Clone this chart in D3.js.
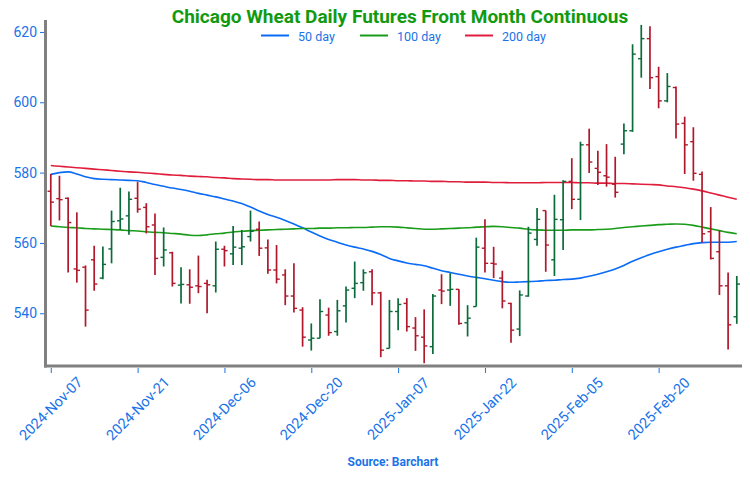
<!DOCTYPE html>
<html><head><meta charset="utf-8">
<script src="https://cdn.jsdelivr.net/npm/d3@7/dist/d3.min.js"></script>
<style>
body{margin:0;background:#fff}
svg{display:block}
text{font-family:Roboto,"Noto Sans",sans-serif}
</style>
</head><body>
<svg id="chart" width="750" height="479"></svg>
<script>
const dates = [
"2024-Nov-07","2024-Nov-08","2024-Nov-11","2024-Nov-12","2024-Nov-13","2024-Nov-14","2024-Nov-15","2024-Nov-18","2024-Nov-19","2024-Nov-20",
"2024-Nov-21","2024-Nov-22","2024-Nov-25","2024-Nov-26","2024-Nov-27","2024-Nov-29","2024-Dec-02","2024-Dec-03","2024-Dec-04","2024-Dec-05",
"2024-Dec-06","2024-Dec-09","2024-Dec-10","2024-Dec-11","2024-Dec-12","2024-Dec-13","2024-Dec-16","2024-Dec-17","2024-Dec-18","2024-Dec-19",
"2024-Dec-20","2024-Dec-23","2024-Dec-24","2024-Dec-26","2024-Dec-27","2024-Dec-30","2024-Dec-31","2025-Jan-02","2025-Jan-03","2025-Jan-06",
"2025-Jan-07","2025-Jan-08","2025-Jan-09","2025-Jan-10","2025-Jan-13","2025-Jan-14","2025-Jan-15","2025-Jan-16","2025-Jan-17","2025-Jan-21",
"2025-Jan-22","2025-Jan-23","2025-Jan-24","2025-Jan-27","2025-Jan-28","2025-Jan-29","2025-Jan-30","2025-Jan-31","2025-Feb-03","2025-Feb-04",
"2025-Feb-05","2025-Feb-06","2025-Feb-07","2025-Feb-10","2025-Feb-11","2025-Feb-12","2025-Feb-13","2025-Feb-14","2025-Feb-18","2025-Feb-19",
"2025-Feb-20","2025-Feb-21","2025-Feb-24","2025-Feb-25","2025-Feb-26","2025-Feb-27","2025-Feb-28","2025-Mar-03","2025-Mar-04","2025-Mar-05"];

const open = [574.7,572.6,572.7,552.6,553.1,555.2,550.0,558.3,566.3,567.7,
572.7,570.1,565.1,555.9,557.2,548.0,548.1,547.8,548.5,547.8,
558.2,556.9,558.5,561.8,563.9,558.6,552.3,550.9,544.9,540.9,
532.4,532.9,539.5,534.8,542.1,547.1,548.7,551.8,545.8,530.0,
540.5,542.8,535.8,533.2,530.5,546.6,546.6,546.8,537.3,541.9,
558.5,554.2,550.0,542.8,535.5,544.9,561.0,569.2,555.2,566.6,
577.5,572.4,587.9,581.2,579.1,576.7,588.1,591.9,612.4,618.1,
607.3,600.4,604.2,594.0,588.8,579.5,563.2,557.5,547.8,539.0];
const high = [579.6,579.1,572.9,568.7,553.6,559.2,559.0,569.2,575.7,574.6,
577.4,571.3,568.4,564.4,557.5,553.1,552.5,556.4,549.5,560.4,
559.2,564.8,563.7,569.2,566.1,561.0,559.4,552.5,554.2,541.7,
537.1,544.0,541.6,543.8,547.6,554.7,552.5,552.5,546.1,543.8,
544.3,544.3,538.9,541.1,545.5,551.1,551.4,546.8,542.3,561.5,
566.7,558.9,552.1,543.0,546.5,564.6,569.9,569.2,573.7,577.8,
584.1,588.8,592.5,586.2,588.1,584.5,594.0,616.5,622.0,621.6,
610.1,608.3,604.5,595.9,592.9,580.3,570.2,563.5,551.6,550.6];
const low = [564.8,566.4,551.6,548.7,536.2,546.4,549.7,554.2,563.7,562.3,
568.6,562.7,550.9,553.3,547.6,542.8,542.7,545.7,540.0,545.9,
553.3,553.7,553.7,560.4,556.3,551.2,548.5,542.3,540.2,530.5,
529.4,532.9,533.6,533.6,537.4,544.3,546.4,542.3,527.5,530.0,
535.2,534.8,529.3,525.8,528.4,542.6,542.1,536.7,533.4,541.9,
551.6,550.0,541.4,531.6,533.5,544.7,559.2,551.8,550.6,558.0,
569.6,566.5,579.9,576.5,576.0,572.9,585.2,591.6,607.0,603.8,
598.3,600.0,589.7,579.6,577.7,560.1,555.3,545.2,529.7,537.0];
const close = [571.6,572.3,565.8,552.2,540.9,548.3,553.9,566.1,566.8,572.4,
569.6,564.6,555.6,558.0,548.5,548.2,547.4,547.6,548.1,558.2,
557.8,558.8,558.9,563.3,558.5,552.3,549.7,544.9,541.4,533.2,
532.9,540.5,534.5,540.7,546.6,548.5,551.5,545.8,529.5,540.5,
542.5,536.2,533.6,530.7,544.9,546.3,546.8,537.1,538.6,558.8,
554.2,554.0,543.5,535.2,545.2,562.8,566.7,559.4,566.7,577.5,
572.4,587.9,583.0,580.1,578.7,574.4,591.9,613.7,618.1,607.0,
600.4,604.5,593.8,587.9,579.8,562.6,555.6,547.8,536.7,548.3];

const ma50 = [579.5,580.0,580.2,579.6,578.8,578.3,578.1,578.0,577.9,577.8,
577.7,577.2,576.6,576.1,575.6,575.2,574.7,574.1,573.6,573.1,
572.5,571.9,571.2,570.2,569.1,568.1,567.3,566.4,565.4,564.3,
563.1,562.0,561.0,560.2,559.4,558.8,558.3,557.6,556.7,555.6,
554.9,554.3,553.9,553.5,552.8,552.1,551.6,551.1,550.6,550.2,
549.8,549.4,549.0,548.8,548.9,549.0,549.1,549.3,549.4,549.6,
549.7,550.0,550.5,551.1,551.8,552.6,553.6,554.8,555.8,556.7,
557.5,558.2,558.8,559.3,559.8,560.1,560.2,560.2,560.2,560.4];
const ma100 = [564.8,564.6,564.4,564.3,564.1,564.0,563.9,563.8,563.7,563.5,
563.4,563.2,563.0,562.9,562.7,562.5,562.2,562.1,562.3,562.6,
562.8,563.1,563.3,563.5,563.6,563.7,563.8,563.9,564.0,564.1,
564.1,564.2,564.2,564.3,564.3,564.4,564.4,564.5,564.6,564.6,
564.5,564.3,564.1,563.9,563.9,564.0,564.1,564.2,564.3,564.5,
564.6,564.7,564.6,564.4,564.2,563.9,563.7,563.6,563.6,563.6,
563.7,563.7,563.7,563.8,563.9,564.1,564.4,564.6,564.8,565.0,
565.2,565.3,565.4,565.3,565.0,564.5,564.0,563.5,563.0,562.6];
const ma200 = [582.0,581.8,581.6,581.4,581.2,581.0,580.8,580.6,580.4,580.2,
580.1,579.9,579.7,579.5,579.3,579.2,579.0,578.9,578.8,578.6,
578.5,578.3,578.2,578.1,578.0,578.0,577.9,577.9,577.9,577.9,
577.9,577.9,577.9,578.0,578.0,578.0,577.9,577.9,577.8,577.8,
577.7,577.7,577.6,577.6,577.5,577.5,577.4,577.4,577.3,577.3,
577.3,577.2,577.2,577.1,577.1,577.1,577.1,577.2,577.2,577.2,
577.2,577.1,577.1,577.0,577.0,576.9,576.9,576.8,576.7,576.6,
576.5,576.2,576.0,575.7,575.3,574.8,574.2,573.6,573.0,572.4];

const yTicks = [540, 560, 580, 600, 620];
const xTickIdx = [0, 10, 20, 30, 40, 50, 60, 70];
const seriesNames = ["50 day", "100 day", "200 day"];

const C = {
  up: "#0b6b3a", down: "#b0182b",
  ma: ["#0a6cf5", "#1a9c1a", "#e01e3c"],
  axis: "#808080", tick: "#1a73e8", title: "#119a11"
};

const svg = d3.select("#chart");
const L = 46, R = 742, T = 20, B = 366;

const x = d3.scaleLinear().domain([-0.55, 79.6]).range([L, R]);
const y = d3.scaleLinear().domain([525.0, 623.4]).range([B, T]);

// MA lines
const maData = [ma50, ma100, ma200];
const lineGen = d3.line().x((d, i) => x(i)).y(d => y(d)).curve(d3.curveMonotoneX);
maData.forEach((s, k) => {
  svg.append("path").attr("d", lineGen(s)).attr("fill", "none")
    .attr("stroke", C.ma[k]).attr("stroke-width", 1.6);
});

// OHLC bars
const idx = d3.range(dates.length);
const g = svg.append("g");
idx.forEach(i => {
  const col = close[i] >= open[i] ? C.up : C.down;
  const xi = x(i);
  g.append("line").attr("x1", xi).attr("x2", xi).attr("y1", y(high[i])).attr("y2", y(low[i]))
    .attr("stroke", col).attr("stroke-width", 1.7);
  g.append("line").attr("x1", xi - 3.2).attr("x2", xi).attr("y1", y(open[i])).attr("y2", y(open[i]))
    .attr("stroke", col).attr("stroke-width", 1.4);
  g.append("line").attr("x1", xi).attr("x2", xi + 3.2).attr("y1", y(close[i])).attr("y2", y(close[i]))
    .attr("stroke", col).attr("stroke-width", 1.4);
});

// Y axis
const yAxis = svg.append("g").attr("transform", `translate(${L - 2},0)`)
  .call(d3.axisLeft(y).tickValues(yTicks).tickSize(4).tickSizeOuter(0).tickPadding(3));
yAxis.select(".domain").remove();
yAxis.selectAll(".tick line").attr("stroke", C.tick);
yAxis.selectAll(".tick text").attr("fill", C.tick).style("font-size", "14px");

// X axis
const xAxis = svg.append("g").attr("transform", `translate(0,${B + 2})`)
  .call(d3.axisBottom(x).tickValues(xTickIdx).tickFormat(i => dates[i]).tickSize(5).tickSizeOuter(0));
xAxis.select(".domain").remove();
xAxis.selectAll(".tick line").attr("stroke", C.tick);
xAxis.selectAll(".tick text").attr("fill", C.tick).style("font-size", "14.5px")
  .attr("text-anchor", "middle").attr("dy", null).attr("y", null)
  .attr("transform", "translate(0,41) rotate(-45)").attr("dominant-baseline", "central");

// Axis frame lines
svg.append("line").attr("x1", L - 0.5).attr("x2", L - 0.5).attr("y1", T).attr("y2", B + 1.5)
  .attr("stroke", C.axis).attr("stroke-width", 3);
svg.append("line").attr("x1", L - 2).attr("x2", R).attr("y1", B).attr("y2", B)
  .attr("stroke", C.axis).attr("stroke-width", 3);

// Title
svg.append("text").attr("x", 400).attr("y", 23).attr("text-anchor", "middle")
  .attr("fill", C.title).style("font-size", "19px").style("font-weight", "bold")
  .text("Chicago Wheat Daily Futures Front Month Continuous");

// Legend
const legX = [261, 360, 465];
seriesNames.forEach((n, k) => {
  svg.append("line").attr("x1", legX[k]).attr("x2", legX[k] + 28).attr("y1", 35.5).attr("y2", 35.5)
    .attr("stroke", C.ma[k]).attr("stroke-width", 2);
  svg.append("text").attr("x", legX[k] + 37).attr("y", 40.5).attr("fill", C.tick)
    .style("font-size", "12.5px").text(n);
});

// Source
svg.append("text").attr("x", 393).attr("y", 466).attr("text-anchor", "middle")
  .attr("fill", C.tick).style("font-size", "12px").style("font-weight", "bold")
  .text("Source: Barchart");
</script>
</body></html>
